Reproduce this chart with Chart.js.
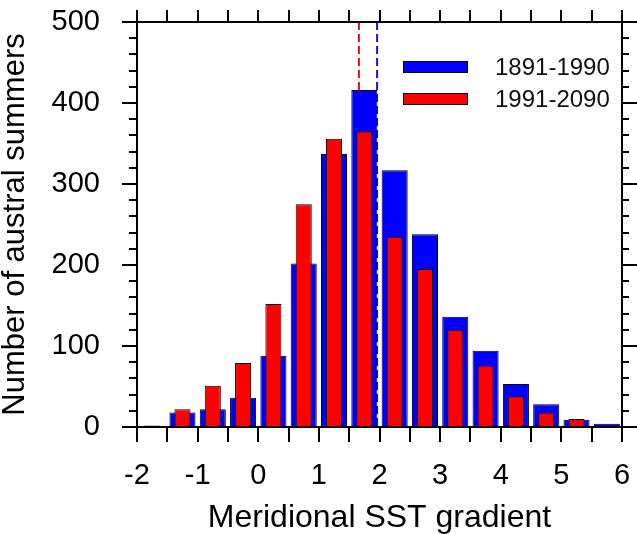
<!DOCTYPE html>
<html>
<head>
<meta charset="utf-8">
<script src="https://cdn.jsdelivr.net/npm/chart.js@4.4.1/dist/chart.umd.min.js"></script>
<style>
  html, body { margin: 0; padding: 0; background: #fff; }
  #wrap { width: 637px; height: 534px; }
</style>
</head>
<body>
<div id="wrap"><canvas id="chart"></canvas></div>
<script>
// histogram bins (bin centres, width 0.5)
const binCenters = [-1.75, -1.25, -0.75, -0.25, 0.25, 0.75, 1.25, 1.75, 2.25, 2.75, 3.25, 3.75, 4.25, 4.75, 5.25, 5.75];
const summers1891 = [0, 18, 22, 36, 88, 202, 337, 416, 317, 238, 136, 94, 53, 28, 9, 4];
const summers1991 = [2, 22, 51, 79, 152, 275, 356, 365, 235, 195, 120, 76, 38, 18, 10, 0];
// dashed lines (period means)
const mean1891 = 1.96;
const mean1991 = 1.66;
// axes
const xTickLabels = [-2, -1, 0, 1, 2, 3, 4, 5, 6];
const xMinorTicks = [-2, -1.5, -1, -0.5, 0, 0.5, 1, 1.5, 2, 2.5, 3, 3.5, 4, 4.5, 5, 5.5, 6];
const yTickLabels = [0, 100, 200, 300, 400, 500];
const yMinorTicks = [20, 40, 60, 80, 120, 140, 160, 180, 220, 240, 260, 280, 320, 340, 360, 380, 420, 440, 460, 480];

const BLUE = 'rgb(0,0,255)';
const RED = 'rgb(255,0,0)';

Chart.defaults.font.family = "'Liberation Sans', Arial, sans-serif";
Chart.defaults.color = '#000';

// frame + tick marks drawn outward on all four sides
const framePlugin = {
  id: 'frame',
  afterDatasetsDraw(chart) {
    const { ctx, chartArea: a, scales } = chart;
    const x = scales.x, y = scales.y;
    ctx.save();
    ctx.strokeStyle = '#000';
    ctx.lineWidth = 2;
    ctx.lineCap = 'square';
    ctx.strokeRect(a.left, a.top, a.right - a.left, a.bottom - a.top);
    ctx.beginPath();
    xMinorTicks.forEach(v => {
      const px = Math.round(x.getPixelForValue(v));
      ctx.moveTo(px, a.bottom); ctx.lineTo(px, a.bottom + 14);
      ctx.moveTo(px, a.top); ctx.lineTo(px, a.top - 11);
    });
    yTickLabels.forEach(v => {
      const py = Math.round(y.getPixelForValue(v));
      ctx.moveTo(a.left - 14, py); ctx.lineTo(a.left, py);
      ctx.moveTo(a.right, py); ctx.lineTo(a.right + 15, py);
    });
    yMinorTicks.forEach(v => {
      const py = Math.round(y.getPixelForValue(v));
      ctx.moveTo(a.left - 7, py); ctx.lineTo(a.left, py);
      ctx.moveTo(a.right, py); ctx.lineTo(a.right + 6, py);
    });
    ctx.stroke();
    ctx.restore();
  }
};

// legend drawn inside the plot, top right
const legendPlugin = {
  id: 'innerLegend',
  afterDraw(chart) {
    const { ctx } = chart;
    const items = chart.data.datasets.filter(d => d.type !== 'line');
    ctx.save();
    ctx.font = "24px 'Liberation Sans', Arial, sans-serif";
    ctx.textBaseline = 'middle';
    items.forEach((d, i) => {
      const cy = 67 + i * 32;
      ctx.fillStyle = d.backgroundColor;
      ctx.fillRect(403, cy - 5.5, 65, 11);
      ctx.strokeStyle = '#000';
      ctx.lineWidth = 1;
      ctx.strokeRect(403.5, cy - 5.5, 64, 11);
      ctx.fillStyle = '#111';
      ctx.fillText(d.label, 495, cy + 1);
    });
    ctx.restore();
  }
};

new Chart(document.getElementById('chart'), {
  type: 'bar',
  data: {
    datasets: [
      {
        label: '1891-1990',
        data: binCenters.map((c, i) => ({ x: c, y: summers1891[i] })),
        backgroundColor: BLUE,
        borderColor: '#000',
        borderWidth: 1,
        borderSkipped: false,
        grouped: false,
        categoryPercentage: 1,
        barPercentage: 0.86,
        order: 2
      },
      {
        label: '1991-2090',
        data: binCenters.map((c, i) => ({ x: c, y: summers1991[i] })),
        backgroundColor: RED,
        borderColor: '#000',
        borderWidth: 1,
        borderSkipped: false,
        grouped: false,
        categoryPercentage: 1,
        barPercentage: 0.53,
        order: 1
      },
      {
        type: 'line',
        label: 'mean 1991-2090',
        data: [{ x: mean1991, y: 500 }, { x: mean1991, y: 0 }],
        borderColor: RED,
        borderWidth: 2,
        borderDash: [8, 4],
        pointRadius: 0,
        order: 3
      },
      {
        type: 'line',
        label: 'mean 1891-1990',
        data: [{ x: mean1891, y: 500 }, { x: mean1891, y: 0 }],
        borderColor: 'rgb(20,20,230)',
        borderWidth: 2,
        borderDash: [8, 4],
        pointRadius: 0,
        order: 3
      }
    ]
  },
  options: {
    responsive: true,
    maintainAspectRatio: false,
    animation: false,
    layout: { padding: { top: 22, right: 15, left: 0, bottom: 0 } },
    plugins: {
      legend: { display: false },
      tooltip: { enabled: false }
    },
    scales: {
      x: {
        type: 'linear',
        min: -2,
        max: 6,
        offset: false,
        grid: { display: false, drawTicks: false },
        border: { display: false },
        afterBuildTicks: s => { s.ticks = xTickLabels.map(v => ({ value: v })); },
        ticks: { padding: 32, font: { size: 29 }, color: '#000' },
        title: {
          display: true,
          text: 'Meridional SST gradient',
          font: { size: 32 },
          color: '#000',
          padding: { top: 0, bottom: -3 }
        },
        afterFit: s => { s.height = 107; s.paddingLeft = 0; s.paddingRight = 0; }
      },
      y: {
        min: 0,
        max: 500,
        grid: { display: false, drawTicks: false },
        border: { display: false },
        afterBuildTicks: s => { s.ticks = yTickLabels.map(v => ({ value: v })); },
        ticks: { padding: 37, font: { size: 29 }, color: '#000' },
        title: {
          display: true,
          text: 'Number of austral summers',
          font: { size: 31 },
          color: '#000',
          padding: { top: -3, bottom: 0 }
        },
        afterFit: s => { s.width = 137; s.paddingTop = 0; s.paddingBottom = 0; }
      }
    }
  },
  plugins: [framePlugin, legendPlugin]
});
</script>
</body>
</html>
